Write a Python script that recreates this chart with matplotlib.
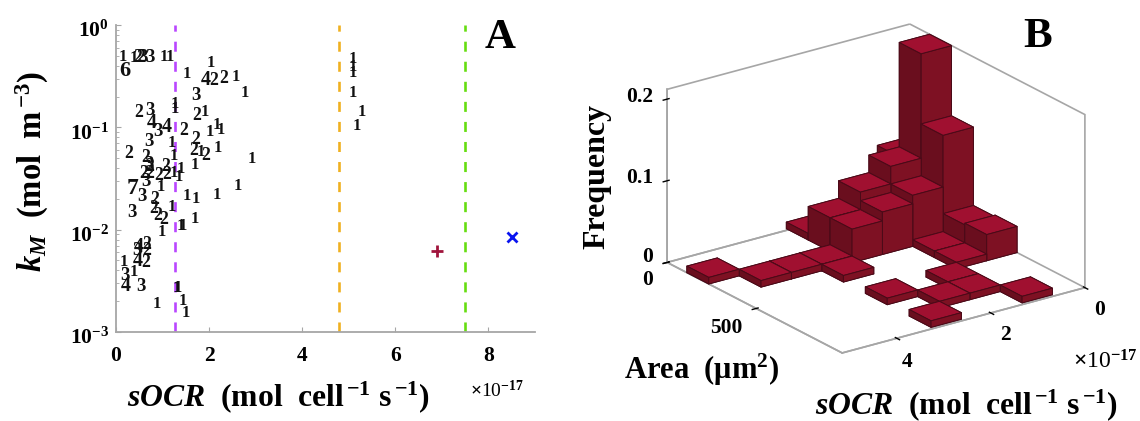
import matplotlib
matplotlib.use('Agg')
import matplotlib.pyplot as plt
from matplotlib.transforms import ScaledTranslation
import numpy as np

plt.rcParams['font.family'] = ['Liberation Serif', 'DejaVu Serif']
plt.rcParams['font.weight'] = 'bold'
plt.rcParams['mathtext.fontset'] = 'custom'
plt.rcParams['mathtext.rm'] = 'Liberation Serif:bold'
plt.rcParams['mathtext.bf'] = 'Liberation Serif:bold'
plt.rcParams['mathtext.it'] = 'Liberation Serif:italic:bold'
plt.rcParams['mathtext.bfit'] = 'Liberation Serif:italic:bold'

# panel A: each entry is a count printed at (sOCR / 1e-17, log10 kM)
counts = [1, 1, 2, 2, 3, 3, 1, 1, 6, 1, 1, 4, 2, 2, 1, 1, 3, 1, 1, 2, 3, 2, 1, 4, 3, 4, 2, 1, 1, 1,
          3, 1, 2, 2, 1, 2, 1, 1, 2, 2, 1, 3, 2, 2, 1, 1, 1, 2, 2, 2, 2, 1,
          1, 1, 1, 1, 1, 1,
          3, 7, 1, 3, 1, 1, 1, 1, 2, 2, 1, 3, 2, 2, 1, 1, 1, 1,
          4, 2, 3, 2, 1, 4, 2, 3, 1, 4, 3, 1, 1, 1, 1, 1]
socr = [.157, .372, .465, .529, .587, .730, 1.037, 1.159, .200, 2.039, 1.531, 1.924, 2.089, 2.318, 2.568,
        2.768, 1.710, 1.266, 1.266, .494, .730, 1.724, 1.917, .765, .901, 1.087, 1.445, 2.017, 2.175, 2.246,
        .701, 1.209, 1.702, 1.667, 1.824, 1.917, 2.189, 2.911, .279, .644, 1.245, .708, .730, 1.059, 1.695,
        1.388, 1.245, .601, .730, .908, 1.087, 1.352,
        5.093, 5.093, 5.093, 5.093, 5.286, 5.172,
        .637, .351, .959, .565, 2.611, 2.160, 1.531, 1.710, .837, .801, 1.195, .336, .887, 1.016, 1.695,
        1.395, 1.431, .987,
        .479, .658, .443, .658, .172, .458, .637, .193, .372, .215, .529, 1.302, 1.323, 1.445, .887, 1.495]
log_km = [-.310, -.319, -.316, -.316, -.316, -.316, -.313, -.313, -.446, -.375, -.482, -.538, -.538, -.521, -.505,
          -.668, -.691, -.772, -.824, -.854, -.831, -.886, -.847, -.955, -1.043, -1.000, -1.033, -1.043, -.978, -1.026,
          -1.140, -1.157, -1.118, -1.222, -1.245, -1.277, -1.206, -1.310, -1.254, -1.297, -1.277, -1.359, -1.385, -1.378, -1.369,
          -1.411, -1.450, -1.450, -1.450, -1.466, -1.460, -1.483,
          -.336, -.407, -.466, -.668, -.847, -.987,
          -1.531, -1.597, -1.587, -1.672, -1.571, -1.661, -1.668, -1.701, -1.701, -1.792, -1.776, -1.834, -1.857, -1.900, -1.896,
          -1.965, -1.965, -2.020,
          -2.173, -2.141, -2.206, -2.200, -2.320, -2.307, -2.320, -2.443, -2.411, -2.551, -2.551, -2.574, -2.574, -2.698, -2.727, -2.818]
vlines = [1.27, 4.79, 7.5]
vline_colors = ['#B946FF', '#F0B020', '#66DD11']
plus_pt = (6.9, 0.00622)
cross_pt = (8.5, 0.0084)

# panel B: 2D histogram, rows are sOCR bins, columns are area bins
socr_edges = [0, .645, 1.29, 1.935, 2.58, 3.225, 3.87, 4.515, 5.16]
area_edges = [-12, 111, 234, 357, 479, 602, 725, 848, 971]
freq = [[.072, .212, .126, .030, .032, 0, 0, 0],
        [0, .084, .0625, .008, .008, 0, 0, .008],
        [0, .0625, .052, 0, 0, .008, .008, 0],
        [.008, .041, .041, 0, 0, 0, .008, 0],
        [0, 0, .008, .008, 0, .008, 0, .008],
        [0, 0, .008, 0, 0, 0, 0, 0],
        [0, 0, .008, 0, 0, 0, 0, 0],
        [0, .008, 0, 0, 0, 0, 0, 0]]

W, H = 1140, 421
fig = plt.figure(figsize=(W / 100, H / 100), dpi=100)
GREY = '#a6a6a6'
SOCR_LABEL = r'$\mathit{sOCR}$  (mol  cell$^{\,\mathbf{-1}}$ s$^{\,\mathbf{-1}}$)'


def px_text(x, y, s, **kw):
    return fig.text(x / W, 1 - y / H, s, ha=kw.pop('ha', 'center'), va=kw.pop('va', 'center'), **kw)


# Panel A
ax = fig.add_axes([116 / W, (H - 332) / H, 419 / W, 307 / H])
ax.set_yscale('log')
ax.set_xlim(0, 9)
ax.set_ylim(1e-3, 1)
ax.spines['top'].set_visible(False)
ax.spines['right'].set_visible(False)
ax.spines['left'].set_color(GREY)
ax.spines['bottom'].set_color(GREY)
ax.spines['left'].set_linewidth(1.3)
ax.spines['bottom'].set_linewidth(1.3)
ax.set_xticks([0, 2, 4, 6, 8])
ax.tick_params(axis='x', which='major', direction='in', length=3.5, color=GREY, labelsize=15.5, pad=10)
ax.tick_params(axis='y', which='major', direction='in', length=3.5, color=GREY, labelsize=15.5, pad=5)
ax.tick_params(axis='y', which='minor', direction='in', length=2, color=GREY)
for t in ax.get_yticklabels():
    t.set_transform(t.get_transform() + ScaledTranslation(0, -3 / 72, fig.dpi_scale_trans))

for xv, c in zip(vlines, vline_colors):
    ax.plot([xv, xv], [1e-3, 1], color=c, lw=1.9, dashes=(3.8, 3.8))

for n, xv, lk in zip(counts, socr, log_km):
    ax.text(xv, 10 ** lk, str(n), fontsize=11 + 0.85 * n, ha='center', va='center', color='#111111')

ax.plot(*plus_pt, marker='+', color='#A0143C', ms=9, mew=2, ls='none')
ax.plot(*cross_pt, marker='x', color='#0A14F0', ms=7, mew=2, ls='none')

px_text(278, 397, SOCR_LABEL, fontsize=22.8)
px_text(32, 172, r'$\mathbfit{k_M}$  (mol  m$^{\,\mathbf{-3}}$)', fontsize=23.5, rotation=90)
px_text(497, 391, r'$\times$10$^{-17}$', fontsize=14, fontweight='normal')
px_text(500, 38, 'A', fontsize=31)

# Panel B
S = 449
ax3 = fig.add_axes([(876 - 0.5135 * S) / W, (H - 188.5 - 0.5135 * S) / H, S / W, S / H], projection='3d')
ax3.patch.set_alpha(0)
ax3.set_proj_type('ortho')
ax3.view_init(elev=21.9, azim=54.2)
ax3.set_box_aspect((300, 300, 187), zoom=1)
ax3.computed_zorder = False
ax3.set_xlim(0, 5.16, view_margin=0)
ax3.set_ylim(0, 983, view_margin=0)
ax3.set_zlim(0, 0.212, view_margin=0)
ax3.grid(False)

TOP, LEFT, RIGHT = '#A01030', '#6A0E1E', '#7E1123'
order = 0
for i, row in enumerate(freq):
    for j, h in enumerate(row):
        if h == 0:
            continue
        order += 1
        ax3.bar3d(socr_edges[i], area_edges[j], 0,
                  socr_edges[i + 1] - socr_edges[i], area_edges[j + 1] - area_edges[j], h,
                  color=[LEFT, TOP, RIGHT, RIGHT, LEFT, LEFT], edgecolor='#4A0A18', linewidth=0.7,
                  shade=False, zorder=order + 10)

for axis in (ax3.xaxis, ax3.yaxis, ax3.zaxis):
    axis.pane.set_alpha(None)
    axis.pane.set_facecolor((1, 1, 1, 0))
    axis.pane.set_edgecolor(GREY)
    axis.pane.set_linewidth(1.2)
    axis.line.set_color(GREY)
    axis.line.set_linewidth(1.2)
    axis._axinfo['tick']['color'] = GREY
    axis._axinfo['tick']['linewidth'] = {True: 1.0, False: 0.5}

ax3.set_xticks([0, 2, 4])
ax3.set_yticks([0, 500])
ax3.set_zticks([0, 0.1, 0.2])
ax3.set_xticklabels([])
ax3.set_yticklabels([])
ax3.set_zticklabels([])
ax3.zaxis.set_ticks_position('lower')

# tick labels of the 3D panel sit at fixed spots next to their ticks
px_text(653, 97, '0.2', fontsize=15.5, ha='right')
px_text(653, 178, '0.1', fontsize=15.5, ha='right')
px_text(648, 257, '0', fontsize=15.5)
px_text(648, 280, '0', fontsize=15.5)
px_text(726, 328, '500', fontsize=15.5)
px_text(1005, 335, '2', fontsize=15.5)
px_text(907, 362, '4', fontsize=15.5)
px_text(1100, 310, '0', fontsize=15.5)

px_text(597, 176, 'Frequency', fontsize=23, rotation=90)
px_text(702, 370, r'Area  ($\mathbf{\mu}$m$^{\mathbf{2}}$)', fontsize=22)
px_text(966, 405, SOCR_LABEL, fontsize=22.8)
px_text(1105, 362, r'$\times$10$^{-17}$', fontsize=17, fontweight='normal')
px_text(1038, 37, 'B', fontsize=31)

fig.savefig('out.png', dpi=100)
